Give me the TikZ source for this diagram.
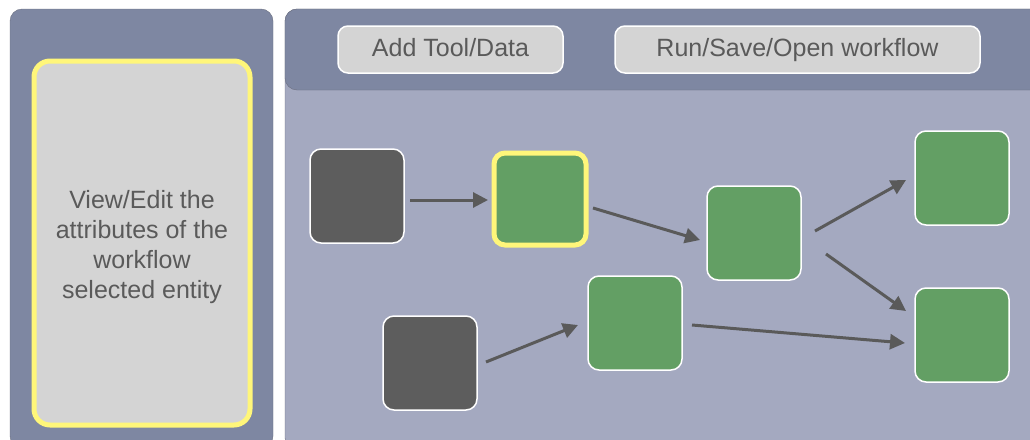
\documentclass[tikz,border=0pt]{standalone}
\usepackage{fontspec}
\setmainfont{Liberation Sans}
\usetikzlibrary{arrows.meta}
\definecolor{panel}{HTML}{7E87A2}
\definecolor{canvas}{HTML}{A4A9C0}
\definecolor{rim}{HTML}{6C7080}
\definecolor{btngray}{HTML}{D4D4D4}
\definecolor{selyellow}{HTML}{FFF67A}
\definecolor{toolgreen}{HTML}{639F64}
\definecolor{datagray}{HTML}{5D5D5D}
\definecolor{ink}{HTML}{5A5A5A}

\begin{document}
\begin{tikzpicture}[x=1pt,y=-1pt,
		txt/.style={text=ink, font=\fontsize{25}{30}\selectfont},
		button/.style={txt, draw=white, line width=1.5, fill=btngray, rounded corners=10, minimum height=47, text height=18, text depth=5},
		box/.style={draw=white, line width=1.5, rounded corners=11, minimum width=94, minimum height=94, inner sep=0, outer sep=0},
		databox/.style={box, fill=datagray},
		toolbox/.style={box, fill=toolgreen},
		selected/.style={toolbox, draw=selyellow, line width=5, minimum width=92, minimum height=92},
		flow/.style={draw=ink, line width=3, -{Triangle[length=15pt,width=15pt]}}]
	\useasboundingbox (0,0) rectangle (1030,439);
	\clip (0,0) rectangle (1030,439);
	% panels
	\draw[draw=rim, fill=panel, rounded corners=12] (10,9) rectangle (273,448);
	\draw[draw=rim, fill=canvas, rounded corners=12] (285,9) rectangle (1045,450);
	\draw[draw=rim, fill=panel, rounded corners=12] (285,9) rectangle (1045,90);
	\node[txt, draw=selyellow, line width=5, fill=btngray, rounded corners=16, minimum width=216, minimum height=364, align=center, text height=117] (info) at (142,243) {View/Edit the\\attributes of the\\workflow\\selected entity};
	% buttons
	\node[button, minimum width=225] (add) at (450.5,49.5) {Add Tool/Data};
	\node[button, minimum width=365] (run) at (797.5,49.5) {Run/Save/Open workflow};
	% workflow
	\foreach \n/\s/\x/\y in {d1/databox/357/196, d2/databox/430/363,
		t1/selected/540/199, t2/toolbox/635/323, t3/toolbox/754/233,
		t4/toolbox/962/178, t5/toolbox/962/335}
		\node[\s] (\n) at (\x,\y) {};
	\draw[flow] ([shift={(6,4)}]d1.east) -- ([shift={(-6,1)}]t1.west);
	\draw[flow] ([shift={(7,9)}]t1.east) -- ([shift={(-7,7)}]t3.west);
	\draw[flow] ([shift={(9,-1)}]d2.east) -- ([shift={(-10,2)}]t2.west);
	\draw[flow] ([shift={(14,-2)}]t3.east) -- ([shift={(-9,2)}]t4.west);
	\draw[flow] ([shift={(25,21)}]t3.east) -- ([shift={(-9,-24)}]t5.west);
	\draw[flow] ([shift={(10,2)}]t2.east) -- ([shift={(-10,8)}]t5.west);
\end{tikzpicture}
\end{document}
